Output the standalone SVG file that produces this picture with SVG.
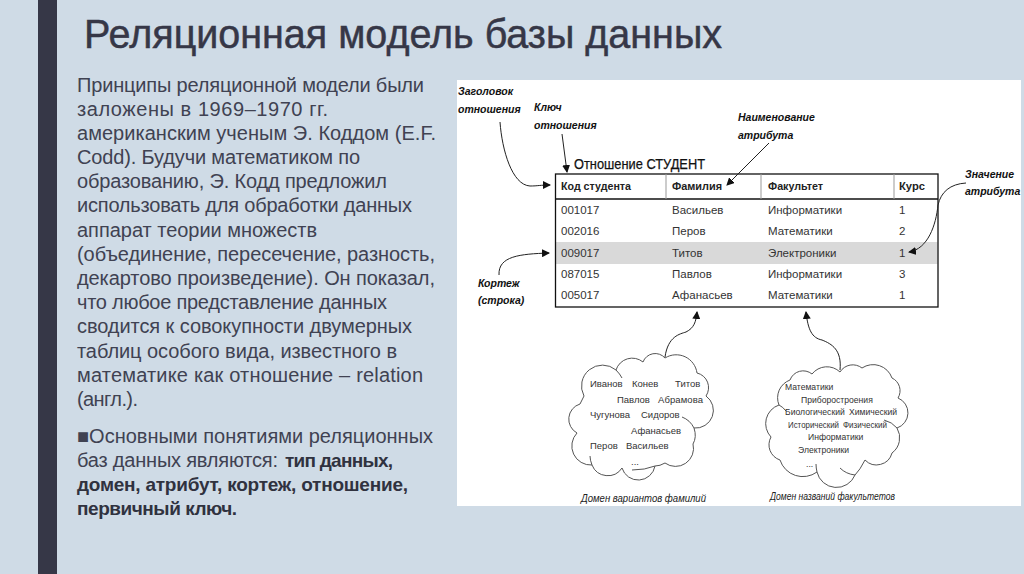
<svg xmlns="http://www.w3.org/2000/svg" width="1024" height="574" viewBox="0 0 1024 574">
<style>
text{font-family:"Liberation Sans",Arial,sans-serif}
.title{font-size:40px;fill:#363747;stroke:#363747;stroke-width:.5}
.b text{font-size:20px;fill:#404252}
.bb{font-size:19px;font-weight:bold;fill:#30323f}
.h{font-weight:bold;font-size:11.2px;fill:#222}
.c{font-size:11.5px;fill:#333}
.n{font-size:9.5px;fill:#333}
.m{font-size:8.6px;fill:#333}
.l{font-weight:bold;font-style:italic;font-size:10.5px;fill:#111}
.d{font-style:italic;font-size:10px;fill:#222}
.a{fill:none;stroke:#222;stroke-width:1}
.cl{fill:#fff;stroke:#555;stroke-width:1}
.in{fill:none;stroke:#555;stroke-width:1}
</style>
<defs><marker id="ah" markerWidth="9" markerHeight="8" refX="7" refY="4" orient="auto" markerUnits="userSpaceOnUse"><path d="M0 0L8 4L0 8z" fill="#111"/></marker></defs>
<rect width="1024" height="574" fill="#cfdbe6"/>
<rect x="38" width="19" height="574" fill="#363747"/>
<text class="title" x="84" y="48" textLength="638" lengthAdjust="spacingAndGlyphs">Реляционная модель базы данных</text>
<g id="body-text" class="b">
<text x="77" y="92" textLength="347">Принципы реляционной модели были</text>
<text x="77" y="116" textLength="251">заложены в 1969–1970 гг.</text>
<text x="77" y="140" textLength="359">американским ученым Э. Коддом (E.F.</text>
<text x="77" y="164" textLength="283">Codd). Будучи математиком по</text>
<text x="77" y="188" textLength="310">образованию, Э. Кодд предложил</text>
<text x="77" y="212" textLength="335">использовать для обработки данных</text>
<text x="77" y="237" textLength="240">аппарат теории множеств</text>
<text x="77" y="261" textLength="358">(объединение, пересечение, разность,</text>
<text x="77" y="285" textLength="358">декартово произведение). Он показал,</text>
<text x="77" y="309" textLength="310">что любое представление данных</text>
<text x="77" y="333" textLength="335">сводится к совокупности двумерных</text>
<text x="77" y="358" textLength="320">таблиц особого вида, известного в</text>
<text x="77" y="382" textLength="346">математике как отношение – relation</text>
<text x="77" y="406" textLength="61">(англ.).</text>
<text x="77" y="443" textLength="356">■Основными понятиями реляционных</text>
<text x="77" y="467" textLength="201">баз данных являются:</text>
<text class="bb" x="285" y="467" textLength="108" style="font-size:19px;font-weight:bold;fill:#30323f">тип данных,</text>
<text class="bb" x="77" y="491" textLength="331" style="font-size:19px;font-weight:bold;fill:#30323f">домен, атрибут, кортеж, отношение,</text>
<text class="bb" x="77" y="515" textLength="160" style="font-size:19px;font-weight:bold;fill:#30323f">первичный ключ.</text>
</g>
<rect id="panel" x="457" y="80" width="564" height="426" fill="#fff"/>
<g id="table">
<rect x="555.5" y="242" width="382" height="22" fill="#d9d9d9"/>
<rect x="555.5" y="174" width="382.5" height="133" fill="none" stroke="#111" stroke-width="1.3"/>
<path d="M555 199H938" stroke="#111" stroke-width="1.3"/>
<path d="M666 174V199M761 174V199M894 174V199" stroke="#999" stroke-width="1"/>
<text x="574" y="169" textLength="131" lengthAdjust="spacingAndGlyphs" style="font-size:14.5px;fill:#111;stroke:#111;stroke-width:.25">Отношение СТУДЕНТ</text>
<g class="h"><text x="561" y="190" textLength="70" lengthAdjust="spacingAndGlyphs">Код студента</text><text x="672" y="190" textLength="50" lengthAdjust="spacingAndGlyphs">Фамилия</text><text x="768" y="190" textLength="55" lengthAdjust="spacingAndGlyphs">Факультет</text><text x="899" y="190" textLength="26" lengthAdjust="spacingAndGlyphs">Курс</text></g>
<g class="c">
<text x="561" y="214">001017</text><text x="672" y="214">Васильев</text><text x="768" y="214">Информатики</text><text x="899" y="214">1</text>
<text x="561" y="235">002016</text><text x="672" y="235">Перов</text><text x="768" y="235">Математики</text><text x="899" y="235">2</text>
<text x="561" y="257">009017</text><text x="672" y="257">Титов</text><text x="768" y="257">Электроники</text><text x="899" y="257">1</text>
<text x="561" y="278">087015</text><text x="672" y="278">Павлов</text><text x="768" y="278">Информатики</text><text x="899" y="278">3</text>
<text x="561" y="299">005017</text><text x="672" y="299">Афанасьев</text><text x="768" y="299">Математики</text><text x="899" y="299">1</text>
</g>
</g>
<g id="label-header" class="l"><text x="458" y="95">Заголовок</text><text x="458" y="113">отношения</text></g>
<g id="label-key" class="l"><text x="534" y="111">Ключ</text><text x="534" y="129">отношения</text></g>
<g id="label-attr-name" class="l"><text x="738" y="121">Наименование</text><text x="738" y="139">атрибута</text></g>
<g id="label-attr-value" class="l"><text x="965" y="178">Значение</text><text x="965" y="195">атрибута</text></g>
<g id="label-tuple" class="l"><text x="478" y="287">Кортеж</text><text x="478" y="304">(строка)</text></g>
<g id="cloud-names">
<path class="cl" d="M584 396A21 21 0 0 1 616 370A17 17 0 0 1 643 362A13 13 0 0 1 665 358A21 21 0 0 1 697 373A15 15 0 0 1 706 396A17.7 17.7 0 0 1 694 428Q697 437 693 444A18 18 0 0 1 665 463Q660 466 655 466A17 17 0 0 1 622 468A17 17 0 0 1 592 465A19 19 0 0 1 577 433A15.8 15.8 0 0 1 580 404Q582 400 584 396Z"/>
<path class="in" d="M616 370Q620 374 622 378M694 428Q690 420 682 417M655 466Q645 470 632 470M592 465Q590 460 590 456"/>
<g class="n"><text x="590" y="387">Иванов</text><text x="632" y="387">Конев</text><text x="675" y="387">Титов</text><text x="617" y="403">Павлов</text><text x="658" y="403" textLength="45">Абрамова</text><text x="590" y="418">Чугунова</text><text x="641" y="418">Сидоров</text><text x="631" y="434">Афанасьев</text><text x="590" y="449">Перов</text><text x="626" y="449">Васильев</text><text x="631" y="465">...</text></g>
</g>
<g id="cloud-faculties">
<path class="cl" d="M779 405A19 19 0 0 1 790 380A14 14 0 0 1 812 374A19 19 0 0 1 840 372A15 15 0 0 1 862 368A20 20 0 0 1 892 378A14 14 0 0 1 898 398A16 16 0 0 1 897 428A19 19 0 0 1 892 453A16 16 0 0 1 865 460Q860 470 855 475A20 20 0 0 1 817 472A24 24 0 0 1 780 460A16 16 0 0 1 771 437A19.6 19.6 0 0 1 779 405Z"/>
<path class="in" d="M779 405Q783 407 786 411M897 428Q892 422 884 420M855 475Q846 474 840 468M817 472Q816 468 816 464"/>
<g class="m"><text x="785" y="390">Математики</text><text x="801" y="403">Приборостроения</text><text x="785" y="415">Биологический</text><text x="849" y="415">Химический</text><text x="788" y="428" textLength="51" lengthAdjust="spacingAndGlyphs">Исторический</text><text x="843" y="428" textLength="44" lengthAdjust="spacingAndGlyphs">Физический</text><text x="808" y="440">Информатики</text><text x="798" y="453">Электроники</text><text x="806" y="467">...</text></g>
</g>
<g id="domain-captions" class="d"><text x="581" y="502" textLength="125" lengthAdjust="spacingAndGlyphs">Домен вариантов фамилий</text><text x="770" y="500" textLength="125" lengthAdjust="spacingAndGlyphs">Домен названий факультетов</text></g>
<g id="connectors" class="a">
<path d="M500 122C502 150 512 185 530 186C538 186 540 185 550 185" marker-end="url(#ah)"/>
<path d="M562 134L567 172" marker-end="url(#ah)"/>
<path d="M769 143L727 185" marker-end="url(#ah)"/>
<path d="M966 183C950 184 941 192 938 205C936 225 928 249 909 252" marker-end="url(#ah)"/>
<path d="M499 275C498 256 520 254 549 253" marker-end="url(#ah)"/>
<path d="M665 357C668 336 680 334 686 332C694 328 696 322 697 312" marker-end="url(#ah)"/>
<path d="M840 370C842 350 832 344 822 340C812 338 808 330 806 312" marker-end="url(#ah)"/>
</g>
</svg>
